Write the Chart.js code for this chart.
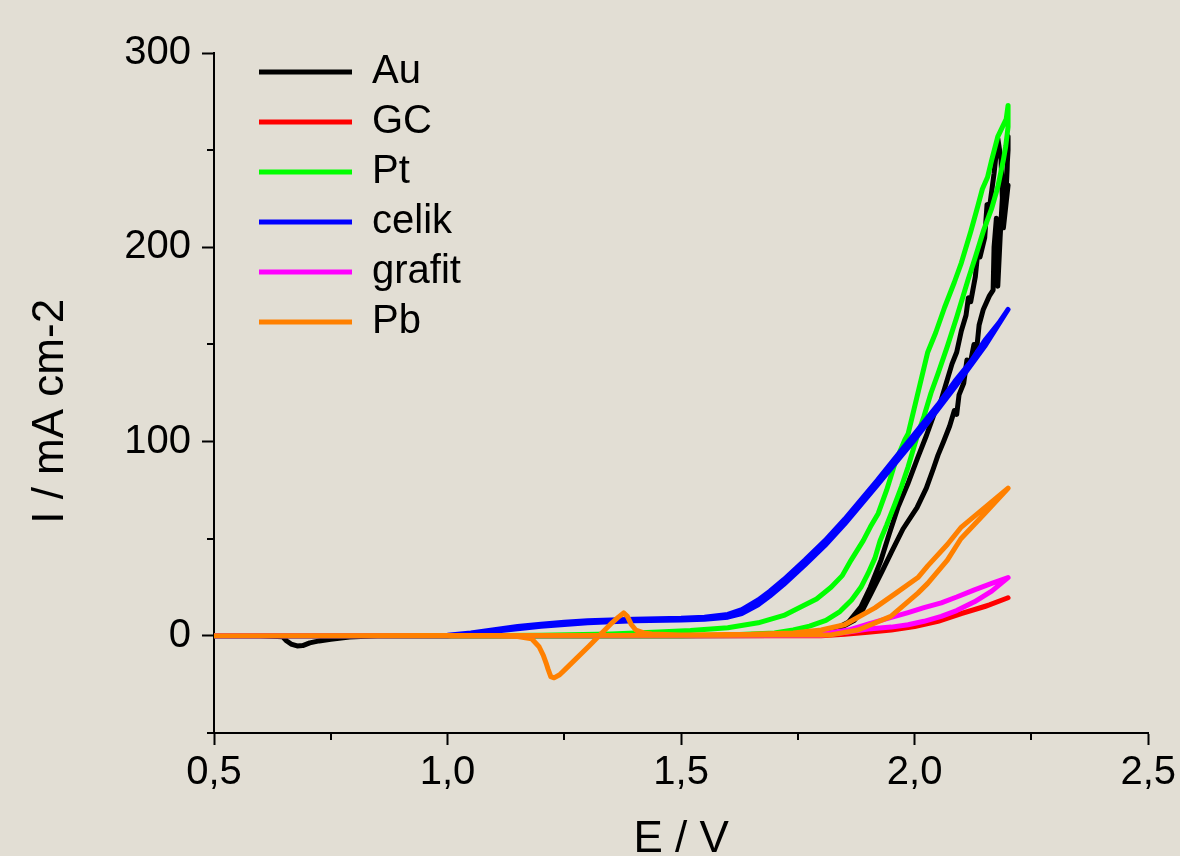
<!DOCTYPE html>
<html>
<head>
<meta charset="utf-8">
<script src="https://cdn.jsdelivr.net/npm/chart.js@4"></script>
<style>
html,body{margin:0;padding:0;background:#e2ded4;}
#wrap{width:1180px;height:856px;position:relative;}
</style>
</head>
<body>
<div id="wrap"><canvas id="c"></canvas></div>
<script>
// ---- data (E / V, I / mA cm-2) ----
const seriesNames = ['Au', 'GC', 'Pt', 'celik', 'grafit', 'Pb'];
const seriesColors = ['#000000', '#ff0000', '#00ff00', '#0000ff', '#ff00ff', '#ff8000'];

const auCurve = [[0.50,0],[0.80,0],[1.00,0],[1.50,0],[1.70,0.2],[1.75,0.3],[1.80,1.5],[1.84,4],[1.871,8],[1.89,14],[1.907,22],[1.93,33],[1.95,43],[1.975,55],[2.005,66],[2.025,76],[2.04,86],[2.05,93],[2.062,100],[2.075,108],[2.085,116],[2.09,114],[2.095,124],[2.105,130],[2.112,142],[2.118,139],[2.127,150],[2.133,148],[2.138,160],[2.147,168],[2.16,175],[2.168,178],[2.17,200],[2.175,215],[2.172,185],[2.178,180],[2.183,205],[2.19,235],[2.195,230],[2.20,250],[2.20,257],[2.198,240],[2.195,225],[2.20,232],[2.19,210],[2.185,245],[2.178,256],[2.17,238],[2.16,220],[2.155,222],[2.15,205],[2.14,195],[2.135,197],[2.13,185],[2.12,172],[2.115,174],[2.11,165],[2.10,157],[2.09,146],[2.08,140],[2.065,128],[2.055,120],[2.043,115],[2.025,103],[2.007,92],[1.985,78],[1.964,66],[1.945,52],[1.928,39],[1.905,25],[1.885,15],[1.858,7],[1.83,3.5],[1.80,1.5],[1.70,0.3],[1.50,0],[1.00,0],[0.85,0],[0.79,-0.6],[0.75,-1.8],[0.725,-2.6],[0.705,-3.6],[0.69,-5.0],[0.678,-5.2],[0.665,-4.2],[0.655,-2.5],[0.647,-0.5],[0.60,0],[0.50,0]];

const gcCurve = [[0.5,0],[1.8,0],[1.85,0.8],[1.88,1.5],[1.93,3],[1.986,4.6],[2.05,8],[2.12,13],[2.16,16],[2.2,19.6],[2.15,15],[2.1,11.5],[2.05,7.5],[2.0,4.8],[1.95,3],[1.9,1.8],[1.85,0.8],[1.8,0.3],[1.5,0],[0.5,0]];

const ptCurve = [[0.5,0],[1.5,0],[1.6,0.4],[1.7,1.5],[1.74,3],[1.775,5],[1.81,8],[1.84,12.5],[1.865,18.5],[1.885,25],[1.9,32],[1.915,40],[1.926,49],[1.94,57],[1.958,68],[1.972,77],[1.986,87],[2.007,104],[2.02,113],[2.035,125],[2.05,135],[2.07,149],[2.09,164],[2.114,183],[2.13,195],[2.148,209],[2.165,220],[2.178,231],[2.19,245],[2.195,252],[2.2,262],[2.2,273],[2.196,266],[2.188,262],[2.178,257],[2.165,245],[2.156,236],[2.145,230],[2.135,221],[2.12,208],[2.1,192],[2.085,182],[2.064,169],[2.045,156],[2.028,146],[2.0,118],[1.986,104],[1.979,101],[1.958,89],[1.94,75],[1.922,63],[1.905,56],[1.89,49],[1.864,39],[1.845,31],[1.821,25],[1.79,19],[1.757,15],[1.72,10.5],[1.665,6.7],[1.6,4.2],[1.52,2.8],[1.452,2],[1.35,1],[1.2,0.3],[1.0,0],[0.5,0]];

const celikCurve = [[0.5,0],[0.95,0],[1.0,0.3],[1.05,1.5],[1.1,3.2],[1.15,4.8],[1.2,6],[1.25,7],[1.3,7.8],[1.4,8.6],[1.5,9],[1.55,9.6],[1.6,11],[1.63,13.5],[1.665,18.5],[1.69,23],[1.72,29],[1.765,39],[1.808,49],[1.85,60],[1.92,80],[2.0,104],[2.05,119],[2.086,131],[2.12,141],[2.15,152],[2.18,161],[2.2,168],[2.15,149],[2.086,128],[2.0,101],[1.92,77.5],[1.85,57.5],[1.808,46.5],[1.765,36.5],[1.72,26.5],[1.69,20.5],[1.665,16],[1.63,11.5],[1.6,9.6],[1.55,8.6],[1.5,8.2],[1.4,7.8],[1.3,6.8],[1.2,5],[1.1,2.3],[1.05,0.9],[1.0,0],[0.5,0]];

const grafitCurve = [[0.5,0],[1.8,0.3],[1.858,2],[1.9,3.5],[1.95,4.5],[1.986,5.7],[2.02,7.5],[2.057,10],[2.09,13],[2.128,17.5],[2.165,23],[2.2,30],[2.165,27],[2.128,23.7],[2.09,20],[2.057,17],[2.02,14.5],[1.986,12],[1.95,9.5],[1.9,6],[1.858,3],[1.8,1],[1.7,0.3],[0.5,0]];

const pbCurve = [[0.5,0],[1.5,0.3],[1.6,0.3],[1.7,0.4],[1.82,0.5],[1.879,3],[1.949,10],[2.007,22],[2.028,27],[2.07,39],[2.099,50],[2.15,63],[2.2,76],[2.175,71],[2.15,66],[2.1,56],[2.07,47],[2.028,36],[2.007,30],[1.96,22],[1.915,14.4],[1.85,5.7],[1.8,3],[1.74,1.5],[1.65,0.8],[1.5,0.5],[1.437,1],[1.42,1.5],[1.403,3],[1.393,6],[1.385,10],[1.377,11.8],[1.365,9.5],[1.352,6.7],[1.303,-5.2],[1.253,-17],[1.24,-20],[1.228,-21.6],[1.221,-21],[1.215,-17],[1.211,-14],[1.205,-10],[1.196,-5.6],[1.18,-1.5],[1.15,-0.3],[1.1,0],[0.5,0]];

const curves = [auCurve, gcCurve, ptCurve, celikCurve, grafitCurve, pbCurve];

// ---- axes ----
const xMajorTicks = [0.5, 1.0, 1.5, 2.0, 2.5];
const xTickLabels = ['0,5', '1,0', '1,5', '2,0', '2,5'];
const xMinorTicks = [0.75, 1.25, 1.75, 2.25];
const yMajorTicks = [0, 100, 200, 300];
const yTickLabels = ['0', '100', '200', '300'];
const yMinorTicks = [-50, 50, 150, 250];
const xTitle = 'E / V';
const yTitle = 'I / mA cm-2';

// ---- rendering ----
const BG = '#e2ded4';
const FONT = "'Liberation Sans', Arial, Helvetica, sans-serif";
Chart.defaults.font.family = FONT;
Chart.defaults.color = '#000';

const bgPlugin = {
  id: 'bg',
  beforeDraw(chart) {
    const c = chart.ctx;
    c.save(); c.fillStyle = BG; c.fillRect(0, 0, chart.width, chart.height); c.restore();
  }
};
const minorTickPlugin = {
  id: 'minorTicks',
  afterDraw(chart) {
    const c = chart.ctx, xs = chart.scales.x, ys = chart.scales.y;
    c.save(); c.strokeStyle = '#000'; c.lineWidth = 2; c.beginPath();
    xMinorTicks.forEach(v => { const p = Math.round(xs.getPixelForValue(v)); c.moveTo(p, xs.top); c.lineTo(p, xs.top + 7); });
    yMinorTicks.forEach(v => { const p = Math.round(ys.getPixelForValue(v)); c.moveTo(ys.right - 7, p); c.lineTo(ys.right, p); });
    c.stroke(); c.restore();
  }
};
const legendShift = {
  id: 'legendShift',
  afterLayout(chart) {
    const l = chart.legend; if (!l) return;
    l.left += 35; l.right += 35; l.top += 42; l.bottom += 42;
  }
};

const datasets = curves.map((pts, i) => ({
  label: seriesNames[i],
  data: pts.map(p => ({x: p[0], y: p[1]})),
  borderColor: seriesColors[i],
  backgroundColor: seriesColors[i],
  borderWidth: 5,
  pointRadius: 0,
  tension: 0,
  borderJoinStyle: 'round',
  borderCapStyle: 'round',
  order: curves.length - i
}));

new Chart(document.getElementById('c'), {
  type: 'scatter',
  data: { datasets },
  plugins: [bgPlugin, minorTickPlugin, legendShift],
  options: {
    responsive: true,
    maintainAspectRatio: false,
    devicePixelRatio: 1,
    animation: false,
    events: [],
    showLine: true,
    layout: { padding: { top: 53, right: 29, bottom: 0, left: 0 } },
    plugins: {
      tooltip: { enabled: false },
      legend: {
        position: 'chartArea',
        align: 'start',
        labels: {
          boxWidth: 93,
          boxHeight: 5,
          padding: 10,
          color: '#000',
          font: { size: 40, family: FONT },
          sort: (a, b) => a.datasetIndex - b.datasetIndex,
          generateLabels(chart) {
            const items = Chart.defaults.plugins.legend.labels.generateLabels(chart);
            items.forEach(it => { it.fillStyle = seriesColors[it.datasetIndex]; it.lineWidth = 0; });
            return items;
          }
        }
      }
    },
    scales: {
      x: {
        type: 'linear',
        min: 0.5, max: 2.5,
        afterBuildTicks(s) { s.ticks = xMajorTicks.map(v => ({value: v})); },
        afterFit(s) { s.height = 123; },
        ticks: {
          autoSkip: false, maxRotation: 0, padding: 4,
          font: { size: 40, family: FONT, lineHeight: 1.2 }, color: '#000',
          callback: (v, i) => xTickLabels[i]
        },
        grid: { display: true, drawOnChartArea: false, drawTicks: true, tickLength: 12, tickWidth: 2, tickColor: '#000' },
        border: { display: true, color: '#000', width: 2 },
        title: { display: true, text: xTitle, color: '#000', font: { size: 44, family: FONT, lineHeight: 0.72 }, padding: { top: 0, bottom: 0 } }
      },
      y: {
        type: 'linear',
        min: -50, max: 300,
        afterBuildTicks(s) { s.ticks = yMajorTicks.map(v => ({value: v})); },
        afterFit(s) { s.width = 214; },
        ticks: {
          autoSkip: false, padding: 11,
          font: { size: 40, family: FONT, lineHeight: 1.2 }, color: '#000',
          callback: (v, i) => yTickLabels[i]
        },
        grid: { display: true, drawOnChartArea: false, drawTicks: true, tickLength: 12, tickWidth: 2, tickColor: '#000' },
        border: { display: true, color: '#000', width: 2 },
        title: { display: true, text: yTitle + '   ', color: '#000', font: { size: 44, family: FONT, lineHeight: 0.72 }, padding: { top: 35, bottom: 0 } }
      }
    }
  }
});
</script>
</body>
</html>
